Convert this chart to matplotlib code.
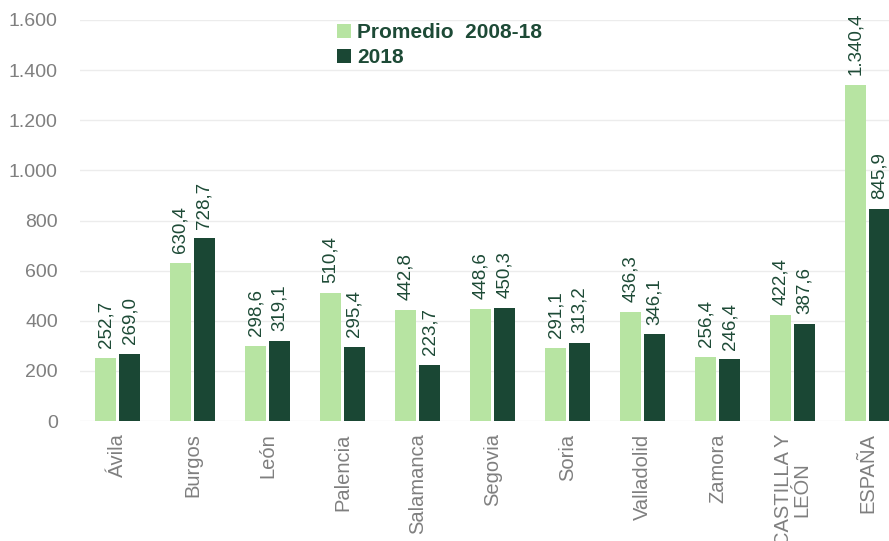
import matplotlib
matplotlib.use("Agg")
import matplotlib.pyplot as plt
import numpy as np

categories = ["Ávila", "Burgos", "León", "Palencia", "Salamanca", "Segovia",
              "Soria", "Valladolid", "Zamora", "CASTILLA Y\nLEÓN", "ESPAÑA"]
promedio = [252.7, 630.4, 298.6, 510.4, 442.8, 448.6, 291.1, 436.3, 256.4, 422.4, 1340.4]
valores_2018 = [269.0, 728.7, 319.1, 295.4, 223.7, 450.3, 313.2, 346.1, 246.4, 387.6, 845.9]
yticks = [0, 200, 400, 600, 800, 1000, 1200, 1400, 1600]

LIGHT = "#b7e4a2"
DARK = "#1a4734"
LABEL = "#1d4a36"
GRAY = "#7f7f7f"

plt.rcParams['font.family'] = ['Liberation Sans', 'DejaVu Sans']

def fmt(v, dec=1):
    s = f"{v:,.{dec}f}"
    return s.replace(",", "X").replace(".", ",").replace("X", ".")

W, H = 889, 541
fig = plt.figure(figsize=(W / 100, H / 100), dpi=100)
left, right, top, bottom = 80, 889, 20, 421
ax = fig.add_axes([left / W, 1 - bottom / H, (right - left) / W, (bottom - top) / H])

x = np.arange(len(categories))
off = 0.16
b1 = ax.bar(x - off, promedio, width=0.27, color=LIGHT, label="Promedio  2008-18", zorder=2)
b2 = ax.bar(x + off, valores_2018, width=0.29, color=DARK, label="2018", zorder=2)

for bars, vals in ((b1, promedio), (b2, valores_2018)):
    for r, v in zip(bars, vals):
        ax.annotate(fmt(v), (r.get_x() + r.get_width() / 2, r.get_height()),
                    xytext=(0, 7), textcoords="offset points", rotation=90,
                    ha="center", va="bottom", fontsize=13.5, color=LABEL)

ax.set_ylim(0, 1600)
ax.set_xlim(-0.5, (right - left) / 75 - 0.5)
ax.set_yticks(yticks)
ax.set_yticklabels([fmt(t, 0) for t in yticks])
ax.set_xticks(x)
ax.set_xticklabels(categories, rotation=90, va="top", ha="center",
                   multialignment="center", linespacing=0.95)
ax.tick_params(axis="y", length=0, labelsize=14, colors=GRAY, pad=16)
ax.tick_params(axis="x", length=0, labelsize=14.5, colors=GRAY, pad=9)
for s in ax.spines.values():
    s.set_visible(False)
ax.grid(axis="y", color="#ececec", linewidth=1, zorder=0)
ax.set_axisbelow(True)

leg = ax.legend(loc="upper left", bbox_to_anchor=(337 / W, 1 - 23 / H),
                bbox_transform=fig.transFigure, frameon=False, fontsize=15,
                handlelength=0.65, handleheight=0.65, handletextpad=0.3,
                labelspacing=0.3, borderaxespad=0, borderpad=0)
for t in leg.get_texts():
    t.set_color(LABEL)
    t.set_fontweight("bold")

fig.savefig("out.png", dpi=100)
